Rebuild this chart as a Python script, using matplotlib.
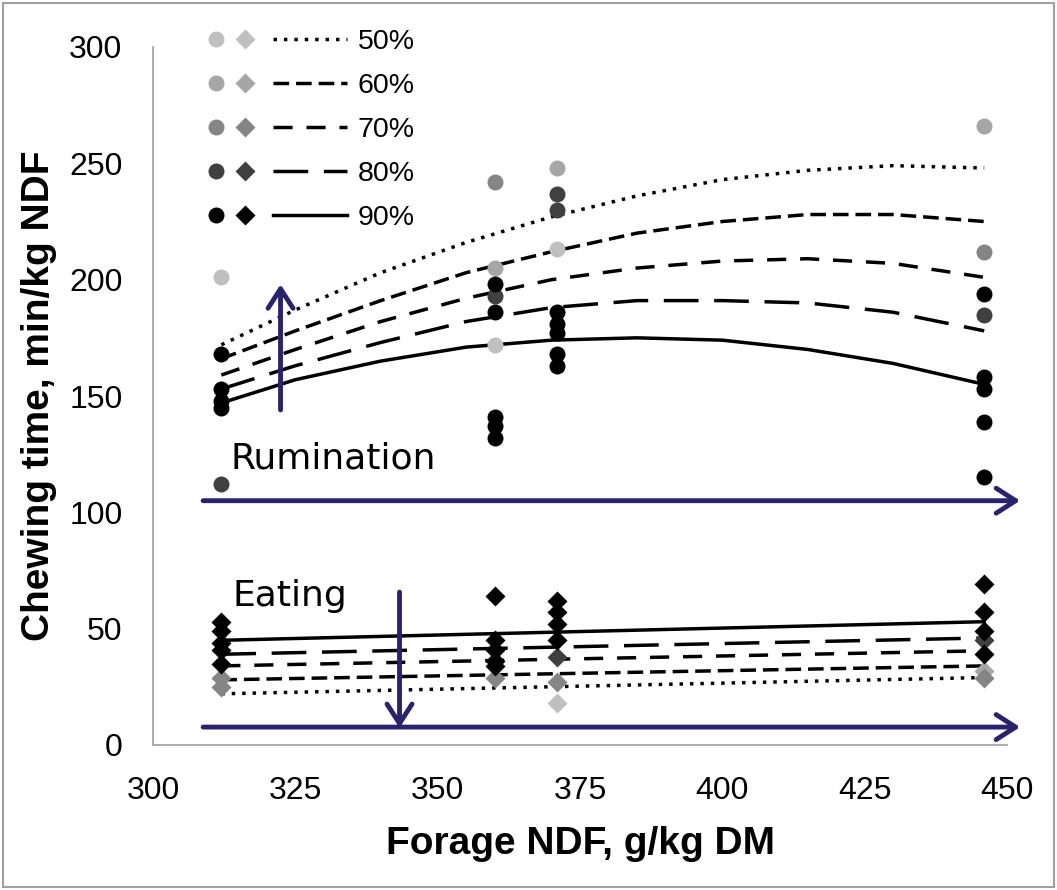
import matplotlib
matplotlib.use('Agg')
import matplotlib.pyplot as plt
from matplotlib.lines import Line2D
from matplotlib.patches import Rectangle

# 水準 (%) ごとの色と線種
levels = ['50%', '60%', '70%', '80%', '90%']
colors = ['#c0c0c0', '#a6a6a6', '#858585', '#404040', '#000000']
styles = [(0, (1, 2)), (0, (4.5, 2)), (0, (5.5, 4)), (0, (10, 4.5)), '-']

# 反芻 (circles): x, y per level
rum_x = [[312, 360, 371],
         [360, 371, 446],
         [360, 446],
         [312, 360, 371, 371, 446],
         [312, 312, 312, 312, 360, 360, 360, 360, 360, 371, 371, 371, 371, 371, 446, 446, 446, 446, 446]]
rum_y = [[201, 172, 213],
         [205, 248, 266],
         [242, 212],
         [112, 193, 237, 230, 185],
         [168, 153, 148, 145, 198, 186, 141, 137, 132, 186, 181, 177, 168, 163, 194, 158, 153, 139, 115]]

# 採食 (diamonds)
eat_x = [[371],
         [446],
         [312, 312, 360, 371, 446],
         [371, 446],
         [312, 312, 312, 312, 312, 360, 360, 360, 360, 360, 371, 371, 371, 371, 446, 446, 446, 446]]
eat_y = [[18],
         [32],
         [29, 25, 29, 27, 29],
         [38, 45],
         [53, 49, 44, 41, 35, 64, 45, 41, 36, 34, 62, 57, 52, 45, 69, 57, 49, 39]]

# 回帰曲線
curve_x = [312, 325, 340, 355, 370, 385, 400, 415, 430, 446]
rum_curve = [[172, 187, 203, 216, 227, 236, 243, 247, 249, 248],
             [166, 178, 191, 203, 212, 220, 225, 228, 228, 225],
             [159, 170, 182, 192, 200, 205, 208, 209, 207, 201],
             [153, 163, 173, 182, 188, 191, 191, 190, 186, 178],
             [147, 157, 165, 171, 174, 175, 174, 170, 164, 155]]
eat_line_x = [312, 446]
eat_line = [[22, 29], [28, 34], [34, 40.5], [39, 46], [45, 53]]

# 矢印
navy = '#29236e'
h_arrow_x = [308.8, 452.3]
h_arrow_y = [105, 7.7]
v_arrow_x = [322.4, 343.3]
v_arrow_y = [[144, 198], [65.7, 7.3]]

fig = plt.figure(figsize=(10.57, 8.9), dpi=100)
ax = fig.add_axes([153/1057, 1-745/890, 854/1057, 698/890])

lw = 2.5
for i in range(5):
    ax.plot(curve_x, rum_curve[i], color='black', lw=lw, linestyle=styles[i], dash_capstyle='butt', zorder=3)
    ax.plot(eat_line_x, eat_line[i], color='black', lw=lw, linestyle=styles[i], dash_capstyle='butt', zorder=3)
for i in range(5):
    ax.plot(rum_x[i], rum_y[i], 'o', color=colors[i], ms=11.5, mec='none', zorder=4)
    ax.plot(eat_x[i], eat_y[i], 'D', color=colors[i], ms=10, mec='none', zorder=4)

for j in range(2):
    ax.annotate('', xy=(h_arrow_x[1], h_arrow_y[j]), xytext=(h_arrow_x[0], h_arrow_y[j]),
                arrowprops=dict(arrowstyle='->,head_length=0.7,head_width=0.45', lw=3.5, color=navy,
                                shrinkA=0, shrinkB=0, mutation_scale=20), annotation_clip=False, zorder=5)
    ax.annotate('', xy=(v_arrow_x[j], v_arrow_y[j][1]), xytext=(v_arrow_x[j], v_arrow_y[j][0]),
                arrowprops=dict(arrowstyle='->,head_length=0.7,head_width=0.45', lw=3.5, color=navy,
                                shrinkA=0, shrinkB=0, mutation_scale=20), annotation_clip=False, zorder=5)

ax.text(313.6, 123.3, 'Rumination', family='DejaVu Sans', fontsize=26, va='center', ha='left')
ax.text(313.9, 64, 'Eating', family='DejaVu Sans', fontsize=26, va='center', ha='left')

ax.set_xlim(300, 450)
ax.set_ylim(0, 300)
ax.set_xticks(range(300, 451, 25))
ax.set_yticks(range(0, 301, 50))
ax.tick_params(length=0, labelsize=23, pad=22)
for lab in ax.get_xticklabels() + ax.get_yticklabels():
    lab.set_family('Liberation Sans')
for s in ['top', 'right']:
    ax.spines[s].set_visible(False)
for s in ['left', 'bottom']:
    ax.spines[s].set_color('#a0a0a0')
    ax.spines[s].set_linewidth(1.2)

ax.set_xlabel('Forage NDF, g/kg DM', family='Liberation Sans', fontsize=28, fontweight='bold')
ax.set_ylabel('Chewing time, min/kg NDF', family='Liberation Sans', fontsize=28, fontweight='bold')
ax.xaxis.set_label_coords(0.5, -0.116)
ax.yaxis.set_label_coords(-0.112, 0.5)

# 凡例: 丸, ひし形, 線
class RowHandler:
    def legend_artist(self, legend, orig_handle, fontsize, handlebox):
        col, ls = orig_handle
        x0, y0 = handlebox.xdescent, handlebox.ydescent
        w, h = handlebox.width, handlebox.height
        tr = handlebox.get_transform()
        yc = y0 + h / 2
        c = Line2D([x0 + 0.08 * w], [yc], marker='o', ms=11.5, color=col, mec='none', transform=tr)
        d = Line2D([x0 + 0.28 * w], [yc], marker='D', ms=10, color=col, mec='none', transform=tr)
        l = Line2D([x0 + 0.48 * w, x0 + w], [yc, yc], color='black', lw=lw, linestyle=ls,
                   dash_capstyle='butt', transform=tr)
        for a in (c, d, l):
            handlebox.add_artist(a)
        return l

handles = [(colors[i], styles[i]) for i in range(5)]
leg = ax.legend(handles, levels, handler_map={tuple: RowHandler()}, loc='upper left',
                bbox_to_anchor=(0.061, 1.026), frameon=False, handlelength=5, handletextpad=0.35,
                labelspacing=0.63, borderpad=0, borderaxespad=0,
                prop={'family': 'Liberation Sans', 'size': 20.5})

fig.patches.append(Rectangle((0.003, 0.003), 0.994, 0.994, transform=fig.transFigure,
                             fill=False, ec='#a0a0a0', lw=1.5))

fig.savefig('out.png', dpi=100)
